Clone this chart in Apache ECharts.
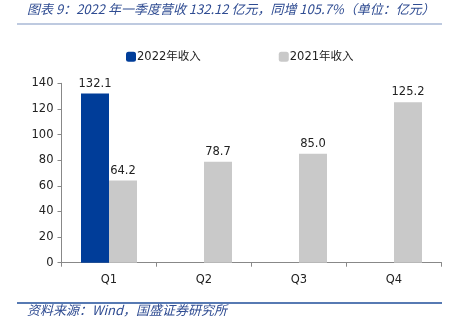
<!DOCTYPE html>
<html><head><meta charset="utf-8">
<script src="https://cdn.jsdelivr.net/npm/echarts@6/dist/echarts.min.js"></script>
<style>html,body{margin:0;padding:0;background:#fff}#c{width:451px;height:324px}</style>
</head><body><div id="c"></div>
<script>
const categories = ['Q1','Q2','Q3','Q4'];
const rev2022 = [132.1, null, null, null];
const rev2021 = [64.2, 78.7, 85.0, 125.2];
const yTicks = [0, 20, 40, 60, 80, 100, 120, 140];
const seriesNames = ['2022年收入','2021年收入'];
const titleText = '图表 9：2022 年一季度营收 132.12 亿元，同增 105.7%（单位：亿元）';
const sourceText = '资料来源：Wind，国盛证券研究所';

const chart = echarts.init(document.getElementById('c'), null, {renderer:'canvas'});
const numFont = 'DejaVu Sans, Noto Sans CJK SC';
const lbl = {show:true, position:'top', distance:4, color:'#222', fontSize:11.5, fontFamily:numFont,
  formatter: p => p.value == null ? '' : Number(p.value).toFixed(1)};
chart.setOption({
  animation:false,
  grid:{left:61.5, right:9.5, top:83.3, bottom:61.3},
  legend:{
    data:seriesNames, top:46, left:121, itemGap:78, itemWidth:10, itemHeight:10,
    icon:'roundRect',
    textStyle:{color:'#222', fontSize:11.5, fontFamily:numFont, padding:[0,0,0,-4]}
  },
  graphic:[
    {type:'text', left:27, top:3, style:{text:titleText, fill:'#2F4C92', font:'italic 13px "Noto Sans CJK SC", "DejaVu Sans"'}},
    {type:'line', shape:{x1:17,y1:24,x2:442,y2:24}, style:{stroke:'#A9B8D6', lineWidth:1.5}},
    {type:'line', shape:{x1:17,y1:303,x2:442,y2:303}, style:{stroke:'#1F4E9A', lineWidth:1.5}},
    {type:'text', left:27, top:304, style:{text:sourceText, fill:'#2F4C92', font:'italic 13px "Noto Sans CJK SC", "DejaVu Sans"'}}
  ],
  xAxis:{
    type:'category', data:categories,
    axisLine:{lineStyle:{color:'#888'}},
    axisTick:{show:true, length:4, lineStyle:{color:'#888'}},
    axisLabel:{color:'#222', fontSize:11.5, fontFamily:numFont, margin:12}
  },
  yAxis:{
    type:'value', min:yTicks[0], max:yTicks[yTicks.length-1], interval:20,
    splitLine:{show:false},
    axisLine:{show:true, lineStyle:{color:'#888'}},
    axisTick:{show:true, length:4, lineStyle:{color:'#888'}},
    axisLabel:{color:'#222', fontSize:11.5, fontFamily:numFont, margin:8}
  },
  series:[
    {name:seriesNames[0], type:'bar', data:rev2022, barWidth:28, barGap:'0%', itemStyle:{color:'#003D99'}, label:lbl},
    {name:seriesNames[1], type:'bar', data:rev2021, barWidth:28, barGap:'0%', itemStyle:{color:'#C9C9C9'}, label:lbl}
  ]
});
</script></body></html>
